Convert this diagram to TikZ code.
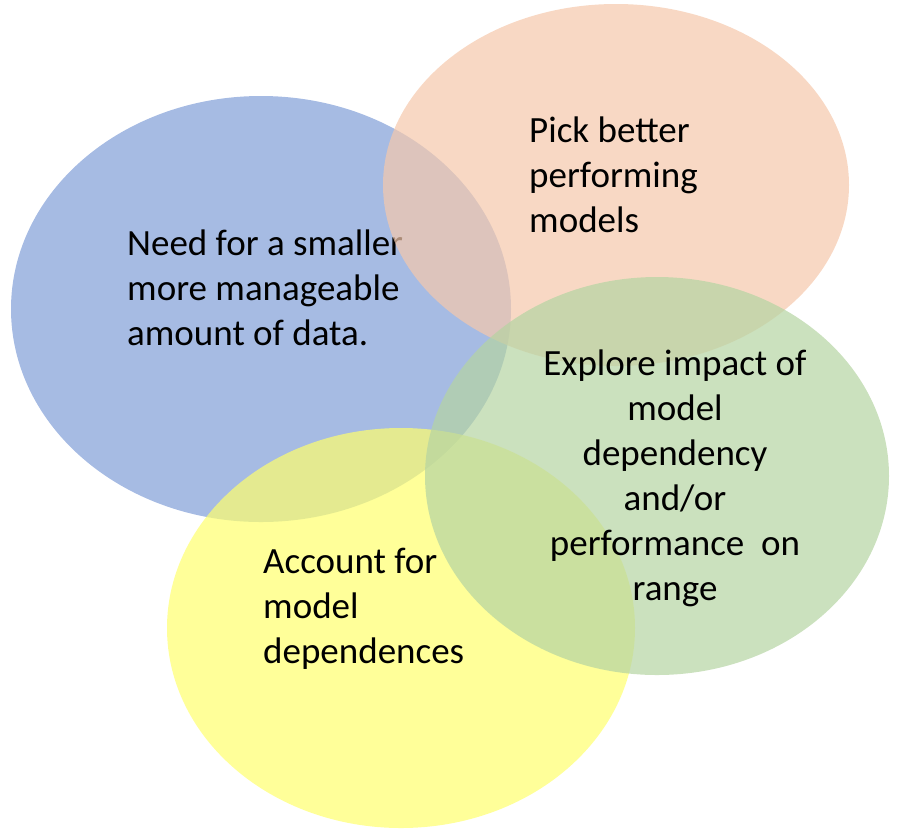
\documentclass[tikz,border=0pt]{standalone}
\usepackage{fontspec}
\setmainfont{Carlito}
\usetikzlibrary{positioning}
\definecolor{bluefill}{RGB}{128,158,215}
\definecolor{orangefill}{RGB}{245,200,171}
\definecolor{greenfill}{RGB}{181,212,162}
\definecolor{yellowfill}{RGB}{255,255,109}

\begin{document}
\begin{tikzpicture}[x=1pt, y=-1pt,
		bubble/.style={fill opacity=0.7},
		caption/.style={inner sep=0pt, font=\fontsize{37}{45}\selectfont}]
	\useasboundingbox (0,0) rectangle (905,831);
	\fill[bluefill, bubble] (261,309) ellipse [x radius=250pt, y radius=213pt];
	\node[caption, anchor=north west, align=left] (need) at (127,230) {Need for a smaller\\more manageable\\amount of data.};
	\fill[orangefill, bubble] (616,185) ellipse [x radius=233pt, y radius=181pt];
	\node[caption, anchor=north west, align=left] (pick) at (529,117) {Pick better\\performing\\models};
	\fill[yellowfill, bubble] (401,628) ellipse [x radius=234pt, y radius=200pt];
	\node[caption, anchor=north west, align=left] (account) at (263,548) {Account for\\model\\dependences};
	\fill[greenfill, bubble] (657,476) ellipse [x radius=232pt, y radius=199pt];
	\node[caption, anchor=north, align=center] (explore) at (675,350) {Explore impact of\\model\\dependency\\and/or\\performance~ on\\range};
\end{tikzpicture}
\end{document}
